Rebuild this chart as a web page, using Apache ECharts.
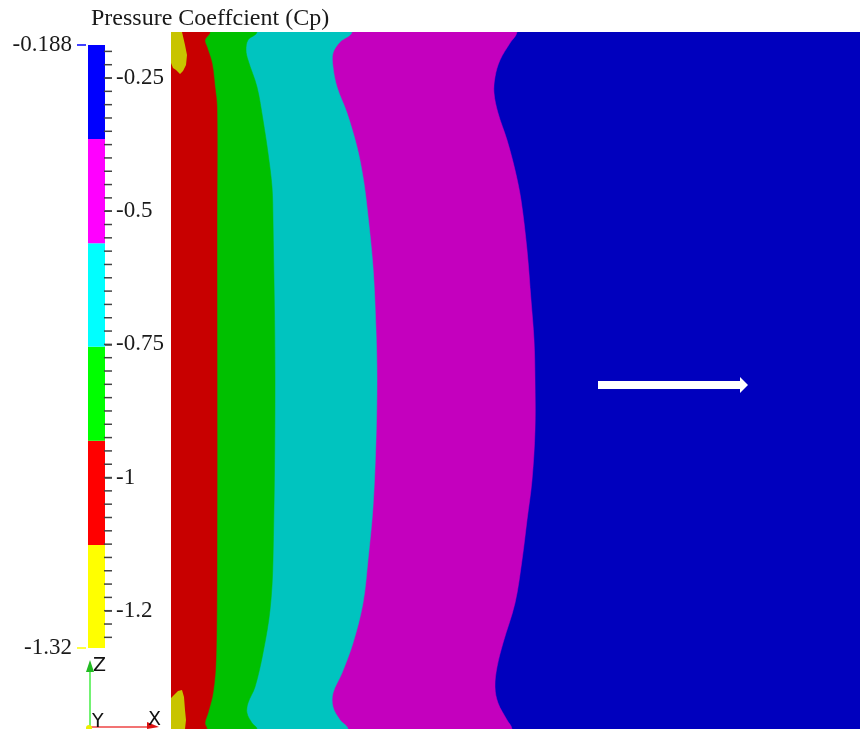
<!DOCTYPE html>
<html>
<head>
<meta charset="utf-8">
<script src="https://cdn.jsdelivr.net/npm/echarts@6/dist/echarts.min.js"></script>
<style>html,body{margin:0;padding:0;background:#fff}#chart{width:860px;height:729px}</style>
</head>
<body>
<div id="chart"></div>
<script>
// ---------- DATA ----------
const titleText = 'Pressure Coeffcient (Cp)';
const cpMin = -1.32;
const cpMax = -0.188;
// colour-bar band edges (bottom -> top) and colours
const bandEdges = [-1.32, -1.1266, -0.9308, -0.7544, -0.5603, -0.3645, -0.188];
const bandColors = ['#FFFF00', '#FF0000', '#00FF00', '#00FFFF', '#FF00FF', '#0000FF'];
// colour-bar ticks and labels
const majorTicks = [-1.25, -1.0, -0.75, -0.5, -0.25];
const majorTickLabels = ['-1.2', '-1', '-0.75', '-0.5', '-0.25'];
const minorTicks = [-1.3, -1.275, -1.25, -1.225, -1.2, -1.175, -1.15, -1.125, -1.1, -1.075, -1.05, -1.025,
  -1.0, -0.975, -0.95, -0.925, -0.9, -0.875, -0.85, -0.825, -0.8, -0.775, -0.75, -0.725, -0.7, -0.675,
  -0.65, -0.625, -0.6, -0.575, -0.55, -0.525, -0.5, -0.475, -0.45, -0.425, -0.4, -0.375, -0.35, -0.325,
  -0.3, -0.275, -0.25, -0.225, -0.2];
const endLabels = ['-0.188', '-1.32'];

// field extent (domain units)
const fieldWidth = 689;
const fieldHeight = 697;
// contour boundaries, pairs [y, x] in domain units (y measured downward from top)
const boundaryMagentaBlue = [[0,346],[11,339],[28,329],[45,324],[61,323],[81,327],[108,336],[138,344],[168,350],[218,356],[268,360],[308,363],[348,364],[398,364],[448,361],[488,356],[528,351],[571,344],[611,332],[635,326],[655,324],[671,327],[688,336],[697,341]];
const boundaryCyanMagenta = [[0,181],[10,169],[21,162],[35,162],[55,166],[81,176],[115,186],[145,192],[175,196],[235,202],[298,205],[348,206],[408,205],[475,202],[528,197],[571,192],[611,182],[641,171],[661,162],[675,162],[688,169],[697,177]];
const boundaryGreenCyan = [[0,86],[8,77],[18,75],[28,77],[55,86],[88,92],[121,97],[155,101],[188,102],[348,104],[528,102],[578,99],[621,92],[655,84],[671,77],[681,76],[691,81],[697,86]];
const boundaryRedGreen = [[0,39],[8,34],[15,36],[31,41],[55,44],[75,46],[188,46],[528,46],[628,45],[661,42],[681,37],[691,34],[697,36]];
const patchYellowTop = [[0,0],[0,11],[13,14],[23,16],[33,15],[39,12],[42,9],[38,5],[36,2],[31,0]];
const patchYellowBottom = [[697,0],[666,0],[663,3],[659,7],[658,11],[665,13],[678,14],[688,15],[697,14]];
// flow direction arrow [x, y] in domain units
const arrowTail = [427, 353];
const arrowTip = [577, 353];

// field colours
const fieldColors = {
  blue: '#0000BE', magenta: '#C400BE', cyan: '#00C4BF', green: '#00C000', red: '#C80000', yellow: '#C8C400'
};

// ---------- CHART ----------
const chart = echarts.init(document.getElementById('chart'), null, {renderer: 'canvas'});
const labelFont = 'Liberation Serif';

function regionSeries(points, color) {
  return {
    type: 'custom', xAxisIndex: 1, yAxisIndex: 4, silent: true, animation: false, clip: true,
    data: points.map(p => [p[1], p[0]]),
    renderItem: function (params, api) {
      if (params.dataIndex !== 0) return null;
      const n = points.length;
      const poly = [];
      // extend beyond the field so smoothing artefacts fall outside the clip rect
      poly.push(api.coord([-40, -40]));
      poly.push(api.coord([points[0][1], -40]));
      points.forEach(p => poly.push(api.coord([p[1], p[0]])));
      poly.push(api.coord([points[n - 1][1], fieldHeight + 40]));
      poly.push(api.coord([-40, fieldHeight + 40]));
      return {type: 'polygon', shape: {points: poly, smooth: 0.35, smoothConstraint: false},
        style: {fill: color, stroke: color, lineWidth: 0.5}};
    }
  };
}
function patchSeries(points, color) {
  return {
    type: 'custom', xAxisIndex: 1, yAxisIndex: 4, silent: true, animation: false, clip: true,
    data: points.map(p => [p[1], p[0]]),
    renderItem: function (params, api) {
      if (params.dataIndex !== 0) return null;
      const poly = points.map(p => api.coord([p[1], p[0]]));
      return {type: 'polygon', shape: {points: poly}, style: {fill: color}};
    }
  };
}

const series = [];
// colour bar
series.push({
  type: 'custom', xAxisIndex: 0, yAxisIndex: 0, silent: true, animation: false,
  data: bandColors.map((c, i) => [0, bandEdges[i], bandEdges[i + 1]]),
  renderItem: function (params, api) {
    const p0 = api.coord([0, api.value(1)]);
    const p1 = api.coord([1, api.value(2)]);
    return {type: 'rect', shape: {x: p0[0], y: p1[1], width: p1[0] - p0[0], height: p0[1] - p1[1]},
      style: {fill: bandColors[params.dataIndex]}};
  }
});
// colour-bar minor ticks
series.push({
  type: 'custom', xAxisIndex: 0, yAxisIndex: 0, silent: true, animation: false, clip: false,
  data: minorTicks.map(v => [1, v]),
  renderItem: function (params, api) {
    const p = api.coord([api.value(0), api.value(1)]);
    return {type: 'line', shape: {x1: p[0] - 1, y1: p[1], x2: p[0] + 7, y2: p[1]},
      style: {stroke: '#444', lineWidth: 1.5}};
  }
});
// field background (blue)
series.push({
  type: 'custom', xAxisIndex: 1, yAxisIndex: 4, silent: true, animation: false,
  data: [[0, 0, fieldWidth, fieldHeight]],
  renderItem: function (params, api) {
    const a = api.coord([api.value(0), api.value(1)]);
    const b = api.coord([api.value(2), api.value(3)]);
    return {type: 'rect', shape: {x: a[0], y: a[1], width: b[0] - a[0], height: b[1] - a[1]}, style: {fill: fieldColors.blue}};
  }
});
series.push(regionSeries(boundaryMagentaBlue, fieldColors.magenta));
series.push(regionSeries(boundaryCyanMagenta, fieldColors.cyan));
series.push(regionSeries(boundaryGreenCyan, fieldColors.green));
series.push(regionSeries(boundaryRedGreen, fieldColors.red));
series.push(patchSeries(patchYellowTop, fieldColors.yellow));
series.push(patchSeries(patchYellowBottom, fieldColors.yellow));
// arrow
series.push({
  type: 'custom', xAxisIndex: 1, yAxisIndex: 4, silent: true, animation: false,
  data: [[arrowTail[0], arrowTail[1], arrowTip[0], arrowTip[1]]],
  renderItem: function (params, api) {
    const t = api.coord([api.value(0), api.value(1)]);
    const h = api.coord([api.value(2), api.value(3)]);
    const hl = 8, sw = 4, hw = 8;
    const pts = [[t[0], t[1] - sw], [h[0] - hl, h[1] - sw], [h[0] - hl, h[1] - hw], [h[0], h[1]],
      [h[0] - hl, h[1] + hw], [h[0] - hl, h[1] + sw], [t[0], t[1] + sw]];
    return {type: 'polygon', shape: {points: pts}, style: {fill: '#ffffff'}};
  }
});

const tickLine = {color: '#444', width: 1.5};
const option = {
  backgroundColor: '#ffffff',
  animation: false,
  title: {
    text: titleText, left: 86, top: 2,
    textStyle: {fontFamily: labelFont, fontSize: 24, fontWeight: 'normal', color: '#1a1a1a'}
  },
  grid: [
    {left: 88, top: 45, width: 17, height: 603, outerBoundsMode: 'none', containLabel: false},
    {left: 171, top: 32, width: fieldWidth, height: fieldHeight, outerBoundsMode: 'none', containLabel: false}
  ],
  xAxis: [
    {gridIndex: 0, type: 'value', min: 0, max: 1, show: false},
    {gridIndex: 1, type: 'value', min: 0, max: fieldWidth, show: false}
  ],
  yAxis: [
    {gridIndex: 0, type: 'value', min: cpMin, max: cpMax, show: false},
    {gridIndex: 0, type: 'value', min: cpMin, max: cpMax, position: 'right', offset: -6,
      axisLine: {show: false}, splitLine: {show: false},
      axisTick: {show: true, length: 13, customValues: majorTicks, lineStyle: tickLine},
      axisLabel: {show: true, customValues: majorTicks, margin: 17, fontFamily: labelFont, fontSize: 23, color: '#1a1a1a',
        formatter: function (v) { const i = majorTicks.findIndex(m => Math.abs(m - v) < 1e-6); return i >= 0 ? majorTickLabels[i] : ''; }}},
    {gridIndex: 0, type: 'value', min: cpMin, max: cpMax, position: 'left', offset: 2,
      axisLine: {show: false}, splitLine: {show: false},
      axisTick: {show: true, length: 9, customValues: [cpMax], lineStyle: {color: '#0000FF', width: 1.5}},
      axisLabel: {show: true, customValues: [cpMax], margin: 14, fontFamily: labelFont, fontSize: 23, color: '#1a1a1a',
        formatter: function () { return endLabels[0]; }}},
    {gridIndex: 0, type: 'value', min: cpMin, max: cpMax, position: 'left', offset: 2,
      axisLine: {show: false}, splitLine: {show: false},
      axisTick: {show: true, length: 9, customValues: [cpMin], lineStyle: {color: '#FFFF00', width: 1.5}},
      axisLabel: {show: true, customValues: [cpMin], margin: 14, fontFamily: labelFont, fontSize: 23, color: '#1a1a1a',
        formatter: function () { return endLabels[1]; }}},
    {gridIndex: 1, type: 'value', min: 0, max: fieldHeight, inverse: true, show: false}
  ],
  graphic: [
    // orientation triad
    {type: 'line', shape: {x1: 90, y1: 727, x2: 90, y2: 668}, style: {stroke: '#44EE44', lineWidth: 1.5}, silent: true},
    {type: 'polygon', shape: {points: [[90, 660], [86, 672], [94, 672]]}, style: {fill: '#22BB22'}, silent: true},
    {type: 'line', shape: {x1: 90, y1: 727, x2: 150, y2: 727}, style: {stroke: '#EE4444', lineWidth: 1.5}, silent: true},
    {type: 'polygon', shape: {points: [[159, 727], [147, 722], [147, 729]]}, style: {fill: '#DD1111'}, silent: true},
    {type: 'circle', shape: {cx: 89, cy: 728, r: 3}, style: {fill: '#EEEE00'}, silent: true},
    {type: 'text', x: 93, y: 657, style: {text: 'Z', font: '19px "DejaVu Sans"', fill: '#111'}, silent: true},
    {type: 'text', x: 92, y: 713, style: {text: 'Y', font: '19px "DejaVu Sans"', fill: '#111'}, silent: true},
    {type: 'text', x: 148, y: 711, style: {text: 'X', font: '19px "DejaVu Sans"', fill: '#111'}, silent: true}
  ],
  series: series
};
chart.setOption(option);
</script>
</body>
</html>
